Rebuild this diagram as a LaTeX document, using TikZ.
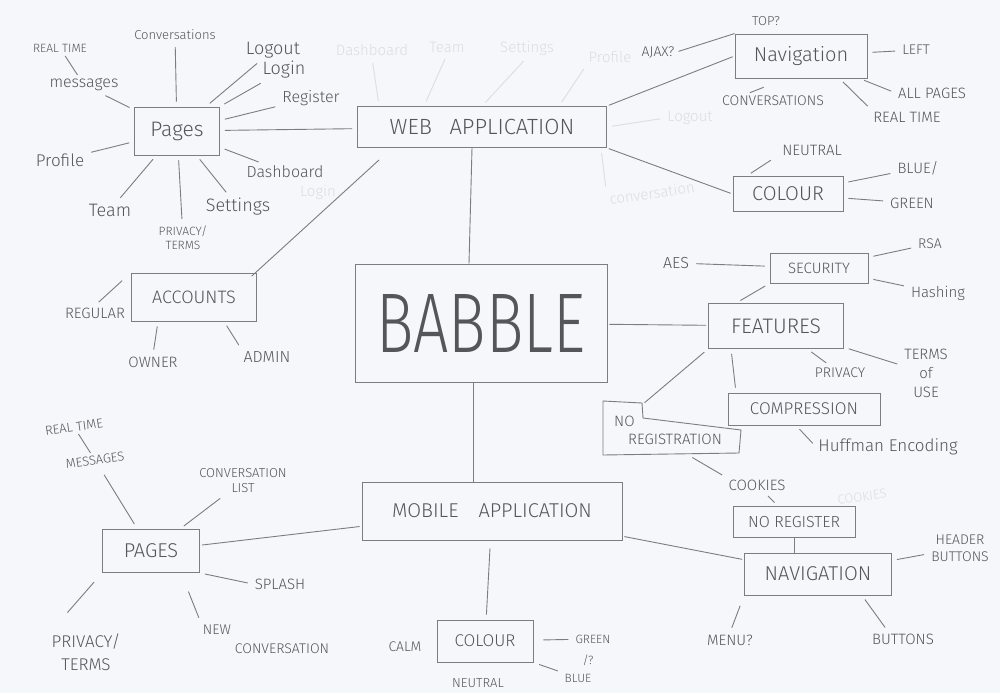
\documentclass[tikz,border=0pt]{standalone}
\usepackage{fontspec}
\IfFontExistsTF{Fira Sans Light}{\setmainfont{Fira Sans Light}}{\setmainfont{Liberation Sans}}
\definecolor{paper}{HTML}{F6F7FB}
\definecolor{ink}{HTML}{55565C}
\definecolor{pen}{HTML}{7C7D84}
\definecolor{ghost}{HTML}{DCDDE5}
\tikzset{
  f/.style={font=\fontsize{#1}{#1}\selectfont},
  box/.style={draw=pen, line width=0.9pt, text=ink, inner sep=0pt},
  lab/.style={text=ink, inner sep=2pt, align=center},
  gh/.style={text=ghost, inner sep=2pt, f=15},
  ln/.style={draw=pen, line width=0.9pt, shorten >=5pt, shorten <=5pt},
  ghl/.style={draw=ghost, line width=0.9pt, shorten >=5pt, shorten <=5pt}
}
\begin{document}
\begin{tikzpicture}[x=1pt,y=-1pt]
\fill[paper] (0,0) rectangle (1000,693);
\useasboundingbox (0,0) rectangle (1000,693);

% ---------- ghost (erased) writing ----------
\node[gh] (gdash) at (372,50) {Dashboard};
\node[gh] (gteam) at (447,47) {Team};
\node[gh] (gsett) at (527,48) {Settings};
\node[gh] (gprof) at (610,57) {Profile};
\node[gh] (glogout) at (690,118) {Logout};
\node[gh, rotate=8] (gconv) at (652,193) {conversation};
\node[gh] (glogin) at (318,192) {Login};
\node[gh, f=13, rotate=8] (gcook) at (862,497) {COOKIES};

% ---------- centre ----------
\node[box, minimum width=252pt, minimum height=118pt] (babble) at (481,323)
  {\resizebox{209pt}{58pt}{\fontsize{80}{80}\selectfont BABBLE}};
\node[box, minimum width=249pt, minimum height=41pt, f=22] (web) at (482,127) {WEB\hspace{0.8em}APPLICATION};
\node[box, minimum width=260pt, minimum height=58pt, f=20] (mobile) at (492,511) {MOBILE\hspace{1em}APPLICATION};

\draw[ghl] ([xshift=22pt]web.north west) -- (gdash.south);
\draw[ghl] ([xshift=67pt]web.north west) -- (gteam.south);
\draw[ghl] ([xshift=125pt]web.north west) -- (gsett.south);
\draw[ghl] ([xshift=202pt]web.north west) -- (gprof.south west);
\draw[ghl] (web.east) -- (glogout.west);
\draw[ghl] ([xshift=-6pt]web.south east) -- (gconv.north west);

\draw[ln, shorten <=0pt, shorten >=0pt] ([xshift=-10pt]web.south) -- ([xshift=-12pt]babble.north);
\draw[ln, shorten <=0pt, shorten >=0pt] ([xshift=-8pt]babble.south) -- ([xshift=-19pt]mobile.north);

% ---------- web pages ----------
\node[box, minimum width=85pt, minimum height=48pt, f=21] (pages) at (177,131) {Pages};
\node[lab, f=12] (rt1) at (60,48) {REAL TIME};
\node[lab, f=16] (msg1) at (84,85) {messages};
\node[lab, f=13] (conv1) at (175,35) {Conversations};
\node[lab, f=18] (logout) at (273,50) {Logout};
\node[lab, f=18] (login) at (284,70) {Login};
\node[lab, f=16] (reg1) at (311,98) {Register};
\node[lab, f=16] (dash1) at (285,172) {Dashboard};
\node[lab, f=18] (sett1) at (238,207) {Settings};
\node[lab, f=12] (priv1) at (183,238) {PRIVACY/\\[2pt]TERMS};
\node[lab, f=18] (team1) at (110,210) {Team};
\node[lab, f=17] (prof1) at (60,160) {Profile};
\draw[ln, shorten <=2pt, shorten >=2pt] (rt1) -- (msg1);
\foreach \t in {msg1,conv1,logout,login,reg1,dash1,sett1,priv1,team1,prof1}
  \draw[ln] (pages) -- (\t);
\draw[ln] (pages) -- (web);

% ---------- accounts ----------
\node[box, minimum width=125pt, minimum height=48pt, f=18] (acc) at (194,297) {ACCOUNTS};
\node[lab, f=15] (regu) at (95,313) {REGULAR};
\node[lab, f=15] (owner) at (153,362) {OWNER};
\node[lab, f=16] (admin) at (267,357) {ADMIN};
\draw[ln, shorten <=0pt] ([xshift=22pt,yshift=-12pt]web.south west) -- ([xshift=-9pt,yshift=-7pt]acc.north east);
\draw[ln, shorten >=12pt] (regu.north) -- (acc.north west);
\draw[ln] ([xshift=-36pt]acc.south) -- (owner.north);
\draw[ln] ([xshift=30pt]acc.south) -- (admin.north west);

% ---------- web navigation ----------
\node[box, minimum width=132pt, minimum height=44pt, f=20] (nav1) at (801,56) {Navigation};
\node[lab, f=13] (top) at (766,21) {TOP?};
\node[lab, f=14] (ajax) at (658,52) {AJAX?};
\node[lab, f=14] (left) at (916,50) {LEFT};
\node[lab, f=15] (allp) at (932,93) {ALL PAGES};
\node[lab, f=15] (rt2) at (907,117) {REAL TIME};
\node[lab, f=14] (conv2) at (773,101) {CONVERSATIONS};
\draw[ln, shorten <=2pt, shorten >=2pt] (web.north east) -- (nav1.west);
\draw[ln, shorten >=0pt, shorten <=2pt] (ajax.east) -- (nav1.north west);
\draw[ln] (nav1) -- (left);
\draw[ln] ([xshift=-8pt]nav1.south east) -- (allp.west);
\draw[ln] ([xshift=-28pt]nav1.south east) -- (rt2.north west);
\draw[ln, shorten >=24pt, shorten <=3pt] ([xshift=-26pt]conv2.north) -- ([xshift=-15pt]nav1.south);

% ---------- web colour ----------
\node[box, minimum width=110pt, minimum height=35pt, f=20] (col1) at (788,194) {COLOUR};
\node[lab, f=15] (neu1) at (812,150) {NEUTRAL};
\node[lab, f=15] (blue1) at (918,168) {BLUE/};
\node[lab, f=15] (green1) at (912,203) {GREEN};
\draw[ln, shorten <=2pt, shorten >=2pt] (web.south east) -- (col1.west);
\draw[ln] ([xshift=14pt]col1.north west) -- ([xshift=-5pt]neu1.south west);
\draw[ln] (col1) -- (blue1);
\draw[ln] (col1) -- (green1);

% ---------- features ----------
\node[box, minimum width=98pt, minimum height=30pt, f=15] (sec) at (819,268) {SECURITY};
\node[lab, f=16] (aes) at (676,263) {AES};
\node[lab, f=14] (rsa) at (930,244) {RSA};
\node[lab, f=15] (hash) at (938,293) {Hashing};
\node[box, minimum width=135pt, minimum height=45pt, f=21] (feat) at (776,326) {FEATURES};
\node[lab, f=15] (terms) at (926,373) {TERMS\\[4pt]of\\[4pt]USE};
\node[lab, f=14] (privf) at (840,373) {PRIVACY};
\node[box, minimum width=152pt, minimum height=32pt, f=17] (comp) at (804,409) {COMPRESSION};
\node[lab, f=17] (huff) at (888,447) {Huffman Encoding};
\node[lab, f=15, align=left] (noreg) at (668,430) {NO\\[3pt]\hspace{14pt}REGISTRATION};
\draw[pen, line width=0.9pt] (603,401) -- (642,403) -- (643,418) -- (741,430) -- (739,453) -- (603,455) -- cycle;
\coordinate (nrc) at (643,404);
\coordinate (nrb) at (688,455);
\draw[ln] (aes) -- (sec);
\draw[ln] (sec) -- (rsa);
\draw[ln] (sec) -- (hash);
\draw[ln] (sec.south west) -- ([xshift=28pt]feat.north west);
\draw[ln, shorten <=2pt, shorten >=2pt] (babble) -- (feat);
\draw[ln] (feat) -- (terms);
\draw[ln] (feat) -- (privf);
\draw[ln] ([xshift=-45pt]feat.south) -- ([xshift=-68pt]comp.north);
\draw[ln] ([xshift=-8pt]comp.south) -- (huff.west);
\draw[ln, shorten >=2pt] (feat.south west) -- (nrc);

% ---------- mobile navigation ----------
\node[lab, f=15] (cook) at (757,485) {COOKIES};
\node[box, minimum width=122pt, minimum height=31pt, f=16] (noreg2) at (794,522) {NO REGISTER};
\node[box, minimum width=147pt, minimum height=42pt, f=20] (nav2) at (818,574) {NAVIGATION};
\node[lab, f=14] (header) at (960,548) {HEADER\\[3pt]BUTTONS};
\node[lab, f=15] (menu) at (730,640) {MENU?};
\node[lab, f=15] (buttons) at (903,639) {BUTTONS};
\draw[ln] (nrb) -- (cook.north west);
\draw[ln] (cook) -- (noreg2);
\draw[ln, shorten <=0pt, shorten >=0pt] (noreg2.south) -- (noreg2.south |- nav2.north);
\draw[ln, shorten <=2pt, shorten >=2pt] (mobile) -- (nav2);
\draw[ln] (nav2) -- (header);
\draw[ln, shorten <=11pt] (nav2.south west) -- (menu.north);
\draw[ln] ([xshift=-30pt]nav2.south east) -- ([xshift=-15pt]buttons.north);

% ---------- mobile pages ----------
\node[box, minimum width=97pt, minimum height=43pt, f=20] (pages2) at (151,551) {PAGES};
\node[lab, f=13, rotate=8] (rt3) at (74,427) {REAL TIME};
\node[lab, f=13, rotate=8] (msg3) at (95,460) {MESSAGES};
\node[lab, f=13] (cl) at (243,481) {CONVERSATION\\[2pt]LIST};
\node[lab, f=15] (splash) at (280,584) {SPLASH};
\node[lab, f=14, align=left] (newc) at (266,639) {NEW\\[5pt]\hspace{32pt}CONVERSATION};
\node[lab, f=17] (priv3) at (86,652) {PRIVACY/\\[6pt]TERMS};
\draw[ln, shorten <=1pt, shorten >=1pt] (rt3) -- (msg3);
\draw[ln, shorten <=10pt, shorten >=6pt] (msg3) -- (pages2);
\draw[ln] (cl) -- (pages2);
\draw[ln, shorten <=2pt, shorten >=2pt] (pages2) -- (mobile);
\draw[ln] (pages2.south east) -- (splash.west);
\draw[ln, shorten <=20pt] ([xshift=30pt]pages2.south) -- (newc.north west);
\draw[ln, shorten <=12pt, shorten >=25pt] (pages2.south west) -- ([xshift=-35pt]priv3.north);

% ---------- mobile colour ----------
\node[box, minimum width=96pt, minimum height=42pt, f=17] (col2) at (485,641) {COLOUR};
\node[lab, f=14] (calm) at (405,647) {CALM};
\node[lab, f=12] (green2) at (593,639) {GREEN};
\node[lab, f=12] (orq) at (588,660) {/?};
\node[lab, f=12] (blue2) at (578,678) {BLUE};
\node[lab, f=13] (neu2) at (478,683) {NEUTRAL};
\draw[ln, shorten <=8pt] (mobile) -- (col2);
\draw[ln, shorten <=10pt] (col2) -- (green2);
\draw[ln, shorten <=6pt] (col2.south east) -- (blue2);
\end{tikzpicture}
\end{document}
